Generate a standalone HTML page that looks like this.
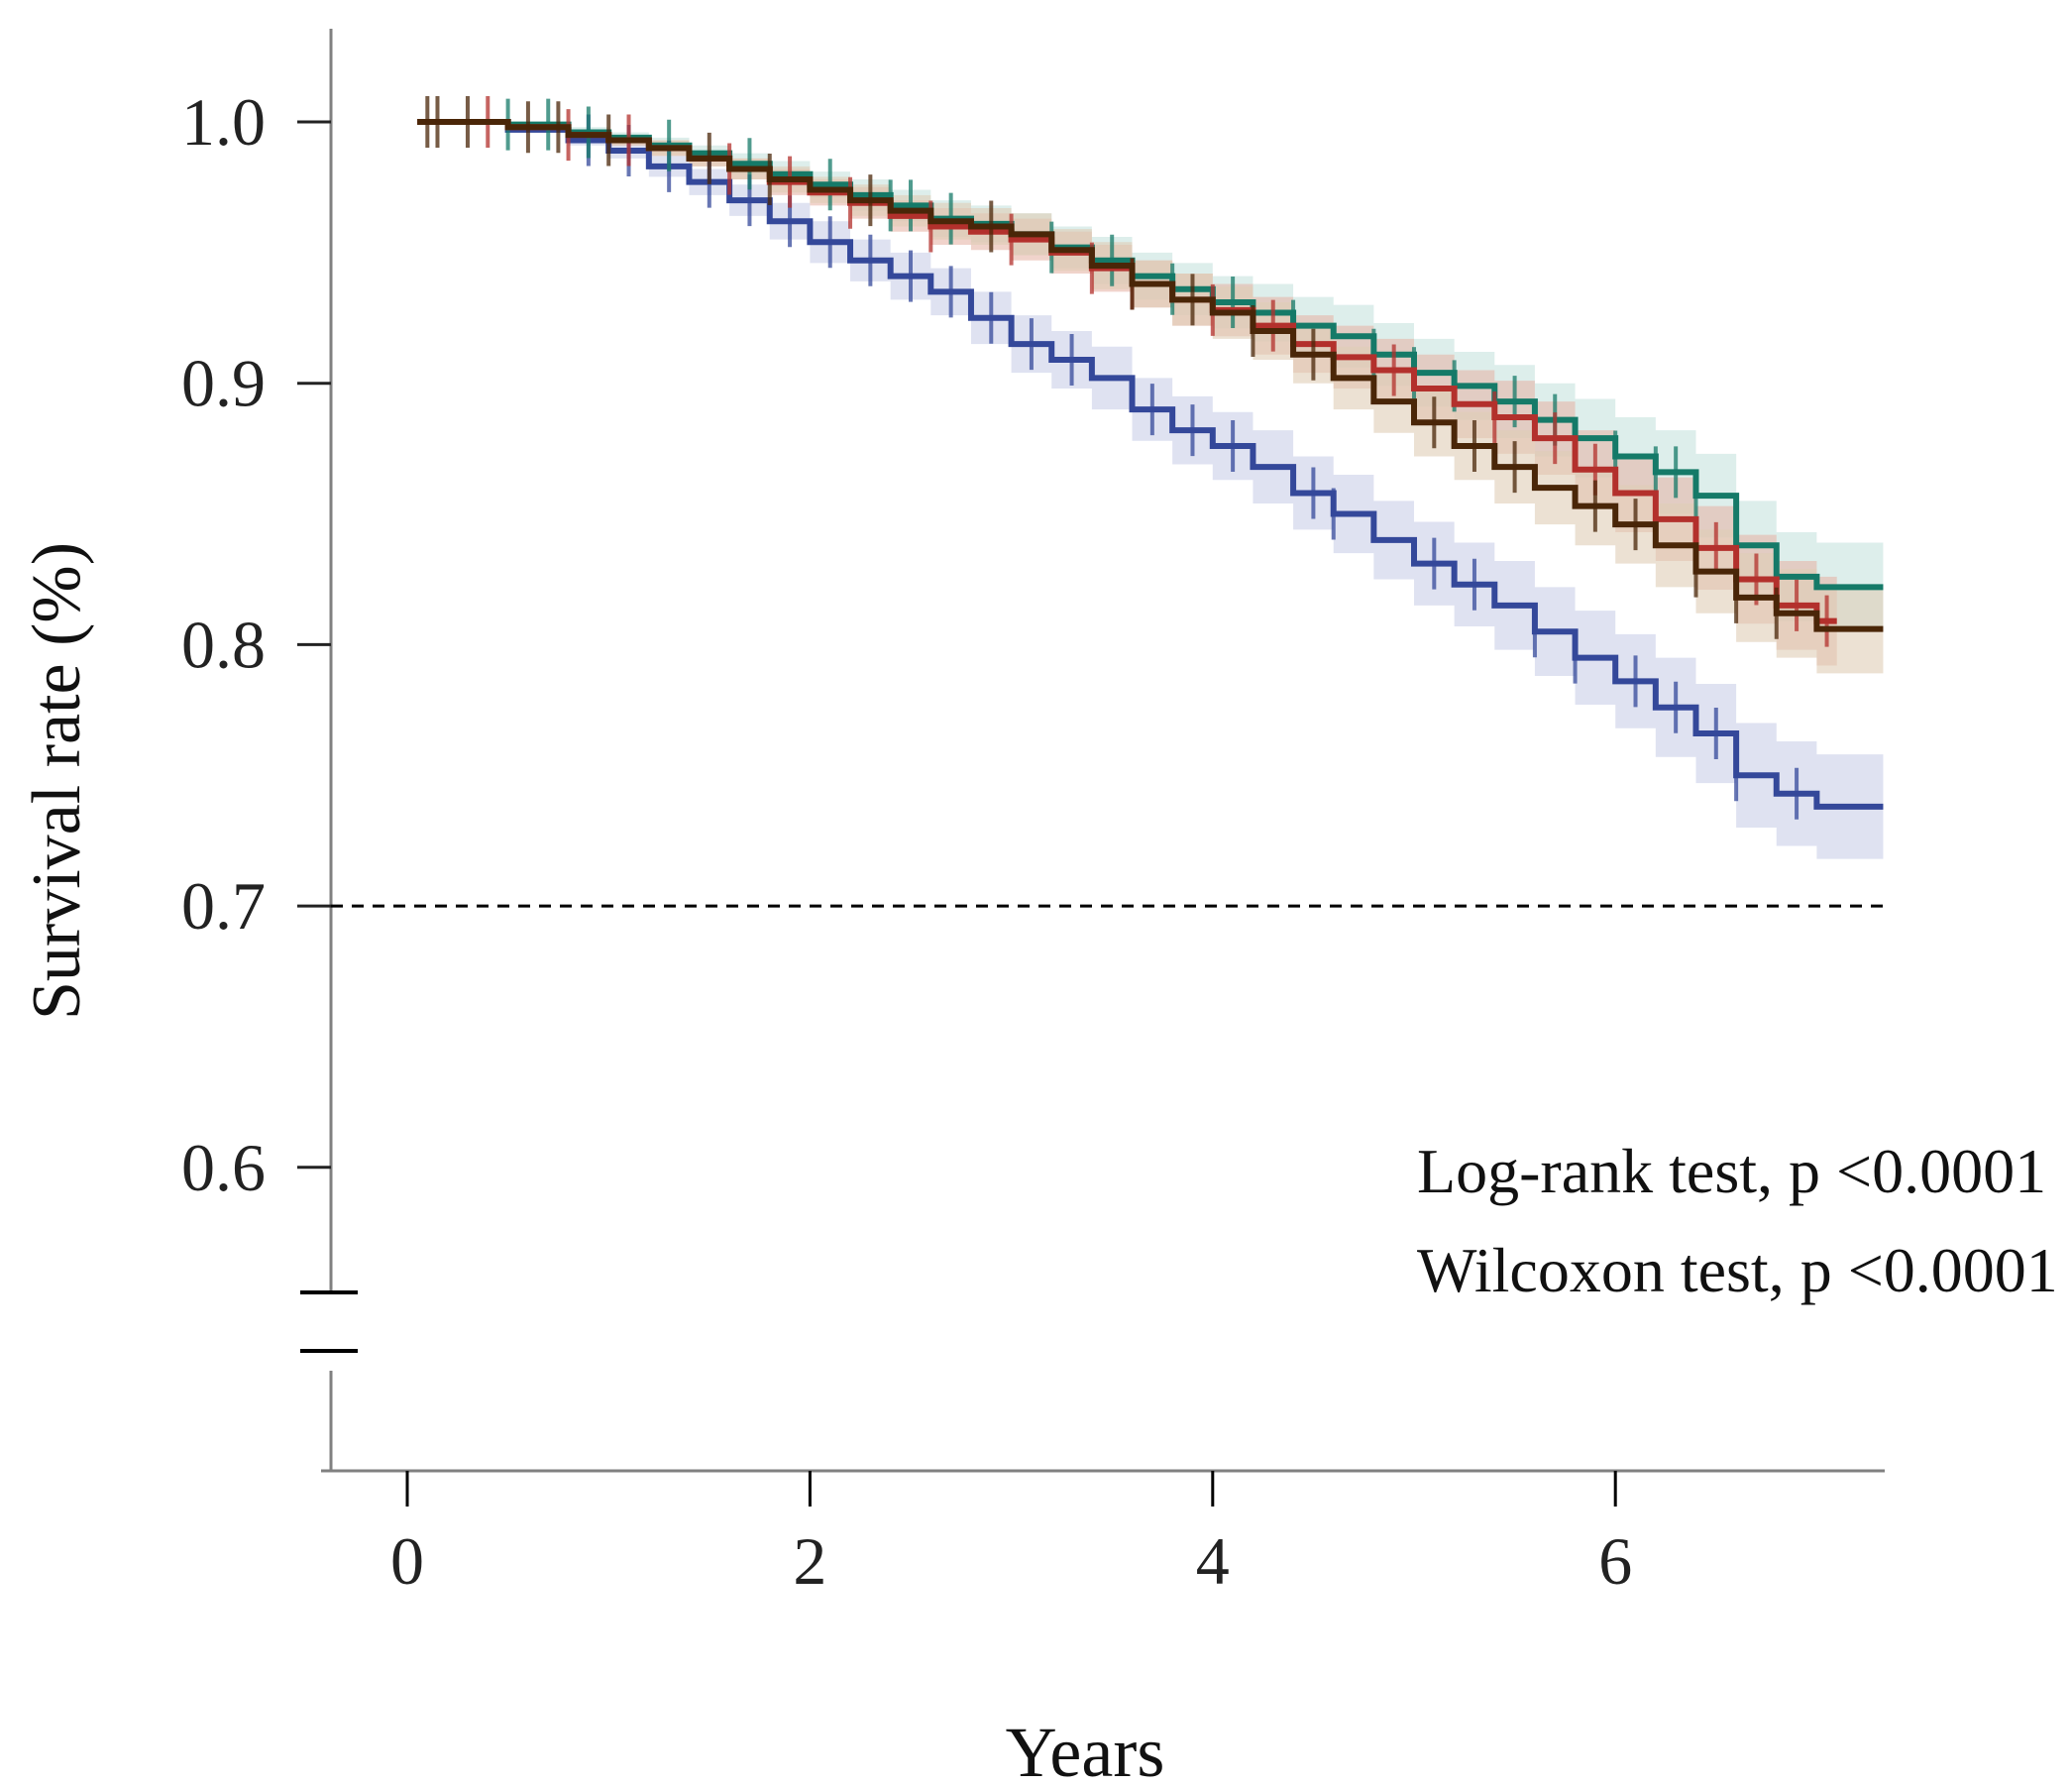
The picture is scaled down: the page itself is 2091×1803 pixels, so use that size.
<!DOCTYPE html>
<html><head><meta charset="utf-8"><style>
html,body{margin:0;padding:0;background:#fff;}
svg{display:block;}
text{font-family:"Liberation Serif",serif;}
</style></head><body>
<svg id="chart" width="2091" height="1803" viewBox="0 0 2091 1803" xmlns="http://www.w3.org/2000/svg">
<g id="bands"></g>
<g id="axes"></g>
<g id="lines"></g>
<text x="0" y="0" transform="translate(80,788) rotate(-90)" text-anchor="middle" font-size="70" fill="#111">Survival rate (%)</text>
<text x="1095" y="1792" text-anchor="middle" font-size="72" fill="#111">Years</text>
<text x="1430" y="1203" font-size="64" fill="#111">Log-rank test, p &lt;0.0001</text>
<text x="1430" y="1303" font-size="64" fill="#111">Wilcoxon test, p &lt;0.0001</text>
</svg>
<script>
const times = [0.05,0.5,0.8,1.0,1.2,1.4,1.6,1.8,2.0,2.2,2.4,2.6,2.8,3.0,3.2,3.4,3.6,3.8,4.0,4.2,4.4,4.6,4.8,5.0,5.2,5.4,5.6,5.8,6.0,6.2,6.4,6.6,6.8,7.0];
const blueSurv = [1.0,0.997,0.993,0.989,0.983,0.977,0.970,0.962,0.954,0.947,0.941,0.935,0.925,0.915,0.909,0.902,0.890,0.882,0.876,0.868,0.858,0.850,0.840,0.831,0.823,0.815,0.805,0.795,0.786,0.776,0.766,0.750,0.743,0.738];
const tealSurv = [1.0,0.999,0.996,0.994,0.991,0.988,0.984,0.980,0.976,0.972,0.968,0.963,0.961,0.957,0.952,0.947,0.941,0.936,0.931,0.927,0.922,0.918,0.911,0.904,0.899,0.893,0.886,0.879,0.872,0.866,0.857,0.838,0.826,0.822];
const redSurv = [1.0,0.998,0.995,0.993,0.990,0.986,0.982,0.977,0.973,0.969,0.964,0.960,0.958,0.955,0.950,0.944,0.938,0.932,0.928,0.922,0.915,0.910,0.905,0.898,0.892,0.887,0.879,0.867,0.858,0.848,0.837,0.825,0.815,0.809];
const brownSurv = [1.0,0.998,0.995,0.993,0.990,0.986,0.982,0.978,0.974,0.970,0.966,0.962,0.960,0.957,0.951,0.945,0.938,0.932,0.927,0.920,0.911,0.902,0.893,0.885,0.876,0.868,0.860,0.853,0.846,0.838,0.828,0.818,0.812,0.806];
const blueHalf = [0,0.001,0.002,0.003,0.004,0.005,0.006,0.007,0.008,0.008,0.009,0.009,0.010,0.011,0.011,0.012,0.012,0.013,0.013,0.014,0.014,0.015,0.015,0.016,0.016,0.017,0.017,0.018,0.018,0.019,0.019,0.020,0.020,0.020];
const otherHalf = [0,0.001,0.002,0.002,0.003,0.003,0.004,0.005,0.005,0.006,0.006,0.007,0.007,0.008,0.008,0.009,0.009,0.010,0.010,0.011,0.011,0.012,0.012,0.013,0.013,0.014,0.014,0.015,0.015,0.016,0.016,0.017,0.017,0.017];
const blueCens = [0.9,1.1,1.3,1.5,1.7,1.9,2.1,2.3,2.5,2.7,2.9,3.1,3.3,3.7,3.9,4.1,4.5,4.6,5.1,5.3,5.6,5.8,6.1,6.3,6.5,6.6,6.9];
const tealCens = [0.5,0.7,0.9,1.3,1.7,2.1,2.4,2.5,2.7,3.2,3.5,3.8,4.1,4.4,4.8,5.0,5.2,5.5,5.7,6.0,6.2,6.3,6.4,6.8];
const redCens = [0.4,0.8,1.1,1.6,1.9,2.2,2.6,3.0,3.4,3.6,4.0,4.3,4.9,5.4,5.7,5.9,6.2,6.5,6.7,6.9,7.05];
const brownCens = [0.1,0.15,0.3,0.6,0.75,1.0,1.5,1.8,2.3,2.9,3.6,3.9,4.2,4.5,5.1,5.3,5.5,5.9,6.1,6.4,6.6,6.8];
const seriesEnd = [7.33,7.33,7.1,7.33];
const xTicks = [0,2,4,6];
const yTicks = [1.0,0.9,0.8,0.7,0.6];
const yTickLabels = ["1.0","0.9","0.8","0.7","0.6"];
const refLine = 0.7;

const NS = "http://www.w3.org/2000/svg";
function xS(t){return 411 + t*203.2;}
function yS(v){return 123 + (1-v)*2637;}
function mk(tag, attrs, parent){const e=document.createElementNS(NS,tag);for(const k in attrs)e.setAttribute(k,attrs[k]);parent.appendChild(e);return e;}
const axes=document.getElementById('axes'), bands=document.getElementById('bands'), lines=document.getElementById('lines');

let e;
e=mk('line',{x1:334,y1:29,x2:334,y2:1303,stroke:'#808080','stroke-width':3},axes);


e=mk('line',{x1:334,y1:1383,x2:334,y2:1484,stroke:'#808080','stroke-width':3},axes);


e=mk('line',{x1:303,y1:1304,x2:361,y2:1304,stroke:'#000','stroke-width':4},axes);


e=mk('line',{x1:303,y1:1363,x2:361,y2:1363,stroke:'#000','stroke-width':4},axes);


e=mk('line',{x1:324,y1:1484,x2:1902,y2:1484,stroke:'#808080','stroke-width':3},axes);


xTicks.forEach(t=>{
  const l=mk('line',{x1:xS(t),y1:1484,x2:xS(t),y2:1520,stroke:'#000','stroke-width':3},axes);
  
  
  const tx=mk('text',{x:xS(t),y:1598,'text-anchor':'middle','font-size':68,fill:'#222'},axes);
  tx.textContent=String(t);
  
  
});
yTicks.forEach((v,i)=>{
  const l=mk('line',{x1:300,y1:yS(v),x2:334,y2:yS(v),stroke:'#222','stroke-width':3},axes);
  
  
  const tx=mk('text',{x:268,y:yS(v)+23,'text-anchor':'end','font-size':68,fill:'#222'},axes);
  tx.textContent=yTickLabels[i];
  
  
});
e=mk('line',{x1:334,y1:yS(refLine),x2:1902,y2:yS(refLine),stroke:'#000','stroke-width':3,'stroke-dasharray':'12,9'},axes);



const series=[
  {name:'blue',surv:blueSurv,half:blueHalf,cens:blueCens,col:'#34489a',band:'#c9cfe8',end:seriesEnd[0]},
  {name:'teal',surv:tealSurv,half:otherHalf,cens:tealCens,col:'#157a68',band:'#c6e3dd',end:seriesEnd[1]},
  {name:'red',surv:redSurv,half:otherHalf,cens:redCens,col:'#b3302c',band:'#e6b5a8',end:seriesEnd[2]},
  {name:'brown',surv:brownSurv,half:otherHalf,cens:brownCens,col:'#4a2608',band:'#dfcdb6',end:seriesEnd[3]}
];
function survAt(s,t){let v=s.surv[0];for(let i=0;i<times.length;i++){if(times[i]<=t)v=s.surv[i];}return v;}
function stepPath(vals){
  let d='M'+xS(times[0])+','+yS(vals[0]);
  for(let i=1;i<times.length;i++){d+=' H'+xS(times[i])+' V'+yS(vals[i]);}
  return d;
}
series.forEach(s=>{
  const hi=s.surv.map((v,i)=>Math.min(1,v+s.half[i]));
  const lo=s.surv.map((v,i)=>v-s.half[i]);
  let d='M'+xS(times[0])+','+yS(hi[0]);
  for(let i=1;i<times.length;i++){d+=' H'+xS(times[i])+' V'+yS(hi[i]);}
  d+=' H'+xS(s.end)+' V'+yS(lo[lo.length-1]);
  for(let i=times.length-1;i>=1;i--){d+=' H'+xS(times[i])+' V'+yS(lo[i-1]);}
  d+=' H'+xS(times[0])+' Z';
  const b=mk('path',{d:d,fill:s.band,'fill-opacity':0.6,stroke:'none'},bands);
  
  
});
series.forEach(s=>{
  const p=mk('path',{d:stepPath(s.surv)+' H'+xS(s.end),fill:'none',stroke:s.col,'stroke-width':6},lines);
  
  
  s.cens.forEach(t=>{
    const y=yS(survAt(s,t));
    const c=mk('line',{x1:xS(t),y1:y-26,x2:xS(t),y2:y+26,stroke:s.col,'stroke-width':4,'stroke-opacity':0.75},lines);
    
    
  });
});
</script>
</body></html>
